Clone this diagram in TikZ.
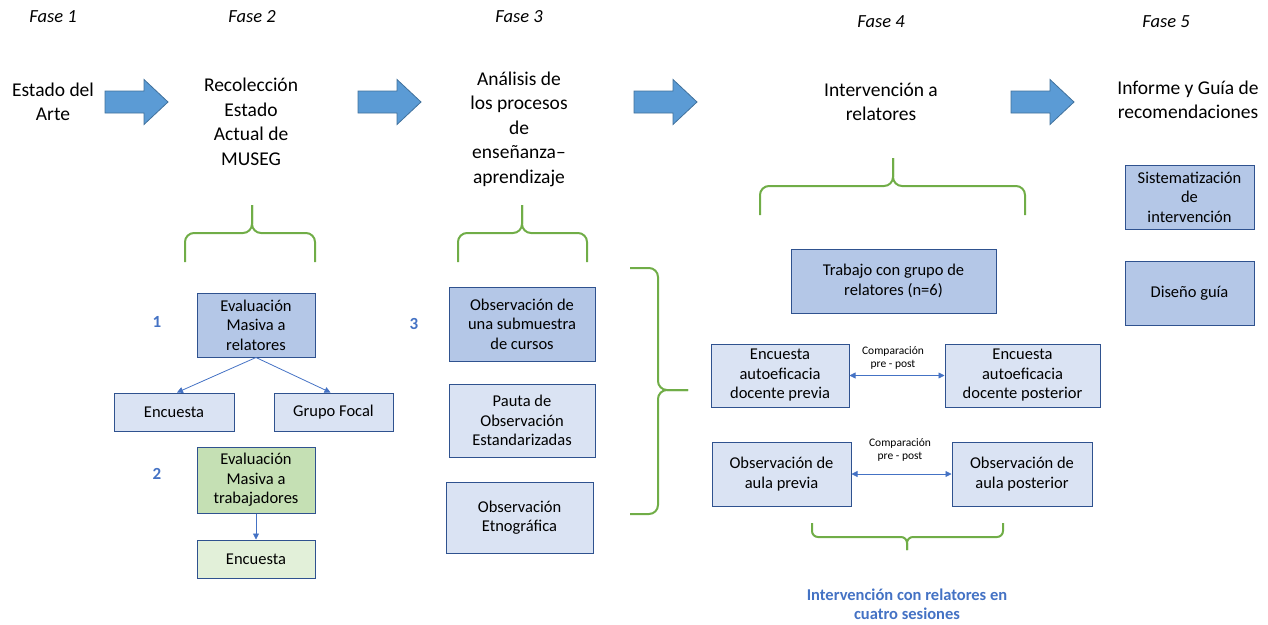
\documentclass[tikz,border=0pt]{standalone}
\usepackage{fontspec}
\setmainfont{Carlito}
\usetikzlibrary{arrows.meta}
\definecolor{darkfill}{HTML}{B4C7E7}
\definecolor{lightfill}{HTML}{DAE3F3}
\definecolor{greenfill}{HTML}{C5E0B4}
\definecolor{lgreenfill}{HTML}{E2F0D9}
\definecolor{boxline}{HTML}{2F528F}
\definecolor{arrfill}{HTML}{5B9BD5}
\definecolor{arrline}{HTML}{41719C}
\definecolor{bracegreen}{HTML}{70AD47}
\definecolor{numblue}{HTML}{4472C4}
\tikzset{
  box/.style={draw=boxline, line width=1pt, align=center, inner sep=0pt,
    font=\fontsize{16.5}{19.5}\selectfont},
  dbox/.style={box, fill=darkfill},
  lbox/.style={box, fill=lightfill},
  phase/.style={font=\fontsize{18.5}{22}\selectfont\itshape},
  ptext/.style={align=center, font=\fontsize{19.5}{24.5}\selectfont},
  num/.style={font=\fontsize{17}{20}\selectfont\bfseries, text=numblue},
  cmp/.style={align=center, font=\fontsize{11.5}{13.5}\selectfont},
  conn/.style={draw=numblue, line width=0.8pt, -{Triangle[length=6pt,width=6pt]}},
  dconn/.style={draw=numblue, line width=0.8pt, {Triangle[length=6pt,width=6pt]}-{Triangle[length=6pt,width=6pt]}},
  brace/.style={draw=bracegreen, line width=2pt, rounded corners=9pt},
  bigarrow/.pic={\draw[fill=arrfill, draw=arrline, line width=0.8pt]
     (0,-11) -- (39,-11) -- (39,-22.5) -- (63,0) -- (39,22.5) -- (39,11) -- (0,11) -- cycle;}
}
\begin{document}
\begin{tikzpicture}[x=1pt, y=-1pt]
\useasboundingbox (0,0) rectangle (1268,624);

% phase labels
\node[phase] (f1) at (53,17) {Fase 1};
\node[phase] (f2) at (252,17) {Fase 2};
\node[phase] (f3) at (519,17) {Fase 3};
\node[phase] (f4) at (881,22) {Fase 4};
\node[phase] (f5) at (1166,22) {Fase 5};

% phase texts
\node[ptext] (p1) at (53,102) {Estado del\\Arte};
\node[ptext] (p2) at (251,122) {Recolección\\Estado\\Actual de\\MUSEG};
\node[ptext] (p3) at (519,129) {Análisis de\\los procesos\\de\\enseñanza–\\aprendizaje};
\node[ptext] (p4) at (881,102) {Intervención a\\relatores};
\node[ptext] (p5) at (1188,100) {Informe y Guía de\\recomendaciones};

% big arrows
\pic at (105,102) {bigarrow};
\pic at (358,102) {bigarrow};
\pic at (634,102) {bigarrow};
\pic at (1011,102) {bigarrow};

% braces
\draw[brace] (185,262) -- (185,233) -- (252,233) -- (252,205);
\draw[brace] (315,262) -- (315,233) -- (252,233) -- (252,205);
\draw[brace] (458,262) -- (458,233) -- (522,233) -- (522,205);
\draw[brace] (587,262) -- (587,233) -- (522,233) -- (522,205);
\draw[brace] (760,215) -- (760,186) -- (893,186) -- (893,158);
\draw[brace] (1025,215) -- (1025,186) -- (893,186) -- (893,158);
\draw[brace] (630,268) -- (658,268) -- (658,390) -- (688,390);
\draw[brace] (630,514) -- (658,514) -- (658,390) -- (688,390);
\draw[brace, rounded corners=6pt] (812,523) -- (812,537) -- (907,537) -- (907,550);
\draw[brace, rounded corners=6pt] (1003,523) -- (1003,537) -- (907,537) -- (907,550);

% Fase 2
\node[num] (n1) at (157,322) {1};
\node[num] (n2) at (157,474) {2};
\node[num] (n3) at (414,324) {3};
\node[dbox, minimum width=118pt, minimum height=64pt] (evr) at (256,325) {Evaluación\\Masiva a\\relatores};
\node[lbox, minimum width=120pt, minimum height=38pt] (enc1) at (174,412) {Encuesta};
\node[lbox, minimum width=119pt, minimum height=38pt] (gf) at (333.5,412) {Grupo Focal};
\node[box, fill=greenfill, minimum width=118pt, minimum height=66pt] (evt) at (256,480) {Evaluación\\Masiva a\\trabajadores};
\node[box, fill=lgreenfill, minimum width=118pt, minimum height=38pt] (enc2) at (256,559) {Encuesta};
\draw[conn] (evr.south) -- ([xshift=3pt]enc1.north);
\draw[conn] (evr.south) -- ([xshift=-3pt]gf.north);
\draw[conn] (evt.south) -- (enc2.north);

% Fase 3
\node[dbox, minimum width=146pt, minimum height=74pt] (obs) at (522,324) {Observación de\\una submuestra\\de cursos};
\node[lbox, minimum width=146pt, minimum height=73pt] (pauta) at (522,420.5) {Pauta de\\Observación\\Estandarizadas};
\node[lbox, minimum width=147pt, minimum height=71pt] (etno) at (519.5,517.5) {Observación\\Etnográfica};

% Fase 4
\node[dbox, minimum width=205pt, minimum height=64pt] (trab) at (893.5,281) {Trabajo con grupo de\\relatores (n=6)};
\node[lbox, minimum width=138pt, minimum height=63pt] (encp) at (780,375.5) {Encuesta\\autoeficacia\\docente previa};
\node[lbox, minimum width=155pt, minimum height=63pt] (encq) at (1022.5,375.5) {Encuesta\\autoeficacia\\docente posterior};
\node[lbox, minimum width=139pt, minimum height=64pt] (obp) at (781.5,474) {Observación de\\aula previa};
\node[lbox, minimum width=140pt, minimum height=64pt] (obq) at (1022,474) {Observación de\\aula posterior};
\draw[dconn] (encp) -- (encq);
\draw[dconn] (obp) -- (obq);
\node[cmp] (c1) at (893,358) {Comparación\\pre - post};
\node[cmp] (c2) at (900,450) {Comparación\\pre - post};
\node[align=center, text=numblue, font=\fontsize{16.5}{19}\selectfont\bfseries] (iv) at (907,604) {Intervención con relatores en\\cuatro sesiones};

% Fase 5
\node[dbox, minimum width=129pt, minimum height=64pt] (sis) at (1189.5,197) {Sistematización\\de\\intervención};
\node[dbox, minimum width=129pt, minimum height=64pt] (dis) at (1189.5,293) {Diseño guía};
\end{tikzpicture}
\end{document}
